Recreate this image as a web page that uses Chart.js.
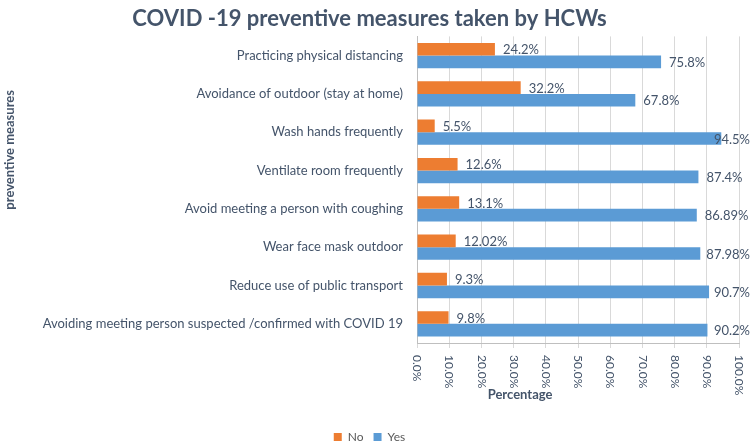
<!DOCTYPE html>
<html>
<head>
<meta charset="utf-8">
<script src="https://cdn.jsdelivr.net/npm/chart.js@4"></script>
<style>
html, body { margin: 0; padding: 0; background: #fff; }
#wrap { width: 752px; height: 443px; }
</style>
</head>
<body>
<div id="wrap"><canvas id="measuresChart"></canvas></div>
<script>
const measures = [
    'Practicing physical distancing',
    'Avoidance of outdoor (stay at home)',
    'Wash hands frequently',
    'Ventilate room frequently',
    'Avoid meeting a person with coughing',
    'Wear face mask outdoor',
    'Reduce use of public transport',
    'Avoiding meeting person suspected /confirmed with COVID 19'
];
const noValues = [24.2, 32.2, 5.5, 12.6, 13.1, 12.02, 9.3, 9.8];
const yesValues = [75.8, 67.8, 94.5, 87.4, 86.89, 87.98, 90.7, 90.2];
const percentTicks = [0, 10, 20, 30, 40, 50, 60, 70, 80, 90, 100];

const textColor = '#44546a';
const fontFamily = 'Lato, "Open Sans", sans-serif';

// data labels, rotated x tick labels and axis titles
const extraText = {
    id: 'extraText',
    afterDatasetsDraw(chart) {
        const c = chart.ctx;
        const area = chart.chartArea;
        c.save();
        c.fillStyle = textColor;
        c.textBaseline = 'middle';
        c.textAlign = 'left';
        c.font = '13px ' + fontFamily;
        chart.data.datasets.forEach((ds, i) => {
            chart.getDatasetMeta(i).data.forEach((bar, j) => {
                const txt = ds.data[j] + '%';
                const w = c.measureText(txt).width;
                let x = bar.x + 8;
                if (x + w > chart.width - 2) x = chart.width - 2 - w;
                c.fillText(txt, x, bar.y + 1);
            });
        });

        const xs = chart.scales.x;
        c.font = '12px ' + fontFamily;
        percentTicks.forEach(v => {
            c.save();
            c.translate(xs.getPixelForValue(v), area.bottom + 12);
            c.rotate(Math.PI / 2);
            c.fillText(v.toFixed(1) + '%', 0, 0);
            c.restore();
        });

        c.font = 'bold 13px ' + fontFamily;
        c.textAlign = 'center';
        c.fillText('Percentage', area.left + (area.right - area.left) * 0.32, area.bottom + 52);
        c.save();
        c.translate(10, area.top + (area.bottom - area.top) * 0.37);
        c.rotate(-Math.PI / 2);
        c.fillText('preventive measures', 0, 0);
        c.restore();
        c.restore();
    }
};

const ctx = document.getElementById('measuresChart');

new Chart(ctx, {
    type: 'bar',
    plugins: [extraText],
    data: {
        labels: measures,
        datasets: [{
            label: 'No',
            data: noValues,
            backgroundColor: '#ed7d31',
            barPercentage: 1,
            categoryPercentage: 0.66
        }, {
            label: 'Yes',
            data: yesValues,
            backgroundColor: '#5b9bd5',
            barPercentage: 1,
            categoryPercentage: 0.66
        }]
    },
    options: {
        indexAxis: 'y',
        responsive: true,
        maintainAspectRatio: false,
        animation: false,
        layout: {
            padding: { left: 0, right: 13, top: 0, bottom: -10 }
        },
        plugins: {
            title: {
                display: true,
                text: 'COVID -19 preventive measures taken by HCWs',
                color: textColor,
                font: { family: fontFamily, size: 22, weight: 'bold' },
                padding: { top: 6, bottom: 4 }
            },
            legend: {
                position: 'bottom',
                labels: {
                    color: '#595959',
                    boxWidth: 8,
                    boxHeight: 8,
                    font: { family: fontFamily, size: 12 },
                    padding: 10
                }
            },
            tooltip: { enabled: false }
        },
        scales: {
            x: {
                min: 0,
                max: 100,
                ticks: { stepSize: 10, display: false },
                grid: {
                    color: '#d9d9d9',
                    drawTicks: true,
                    tickLength: 5
                },
                border: { color: '#bfbfbf' },
                afterFit: s => { s.height = 78; }
            },
            y: {
                ticks: {
                    color: textColor,
                    padding: 6,
                    font: { family: fontFamily, size: 13 }
                },
                grid: { display: false },
                border: { color: '#bfbfbf' },
                afterFit: s => { s.width = 417; }
            }
        }
    }
});
</script>
</body>
</html>
